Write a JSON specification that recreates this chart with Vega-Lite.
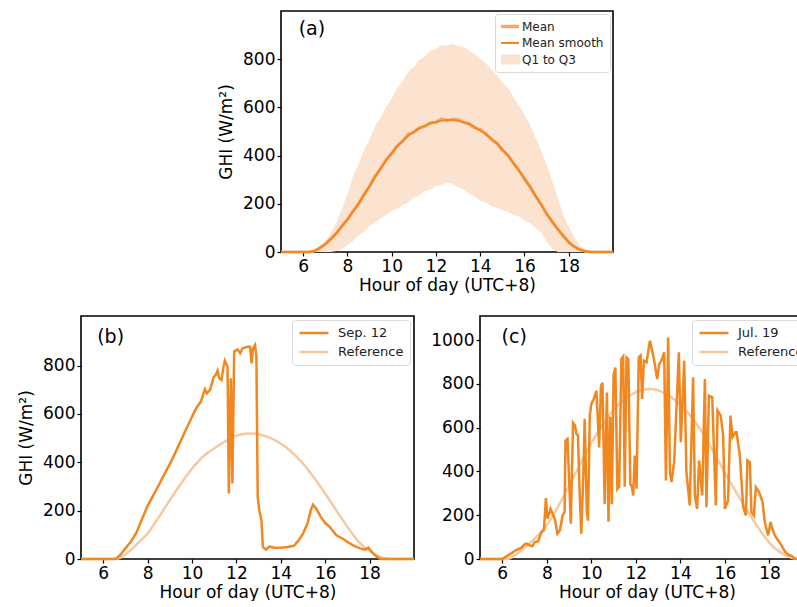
{
  "$schema": "https://vega.github.io/schema/vega-lite/v6.json",
  "padding": {"left": 16, "top": 10, "right": 0, "bottom": 0},
  "background": "white",
  "config": {
    "font": "DejaVu Sans",
    "view": {"stroke": "black", "strokeWidth": 1.6},
    "axis": {"domain": false, "grid": false, "ticks": true, "tickColor": "black", "tickWidth": 1.2, "tickSize": 4,
      "labelFont": "DejaVu Sans", "labelFontSize": 17, "labelColor": "black", "labelPadding": 2, "labelFlush": false, "labelOverlap": false, "format": "d",
      "titleFont": "DejaVu Sans", "titleFontSize": 17, "titleFontWeight": "normal", "titleColor": "black"},
    "axisX": {"titlePadding": 3},
    "axisY": {"titlePadding": 7},
    "legend": {"orient": "top-right", "offset": 4, "fillColor": "white", "strokeColor": "#d9d9d9", "cornerRadius": 3,
      "padding": 6, "labelFont": "DejaVu Sans", "labelFontSize": 13, "labelColor": "#222222", "symbolType": "stroke",
      "symbolStrokeWidth": 2.5, "symbolSize": 841, "clipHeight": 14, "rowPadding": 5, "labelOffset": 8}
  },
  "datasets": {
    "a_lines": [
      {"series":"Mean smooth","hour":5,"value":0},{"series":"Mean smooth","hour":6,"value":0},{"series":"Mean smooth","hour":6.25,"value":0},{"series":"Mean smooth","hour":6.5,"value":4},{"series":"Mean smooth","hour":6.75,"value":16},{"series":"Mean smooth","hour":7,"value":33},{"series":"Mean smooth","hour":7.25,"value":53},{"series":"Mean smooth","hour":7.5,"value":78},{"series":"Mean smooth","hour":7.75,"value":106},{"series":"Mean smooth","hour":8,"value":135},{"series":"Mean smooth","hour":8.25,"value":167},{"series":"Mean smooth","hour":8.5,"value":200},{"series":"Mean smooth","hour":8.75,"value":236},{"series":"Mean smooth","hour":9,"value":274},{"series":"Mean smooth","hour":9.25,"value":311},{"series":"Mean smooth","hour":9.5,"value":347},{"series":"Mean smooth","hour":9.75,"value":380},{"series":"Mean smooth","hour":10,"value":410},{"series":"Mean smooth","hour":10.25,"value":438},{"series":"Mean smooth","hour":10.5,"value":462},{"series":"Mean smooth","hour":10.75,"value":482},{"series":"Mean smooth","hour":11,"value":499},{"series":"Mean smooth","hour":11.25,"value":513},{"series":"Mean smooth","hour":11.5,"value":524},{"series":"Mean smooth","hour":11.75,"value":533},{"series":"Mean smooth","hour":12,"value":540},{"series":"Mean smooth","hour":12.25,"value":545},{"series":"Mean smooth","hour":12.5,"value":548},{"series":"Mean smooth","hour":12.75,"value":548},{"series":"Mean smooth","hour":13,"value":545},{"series":"Mean smooth","hour":13.25,"value":539},{"series":"Mean smooth","hour":13.5,"value":530},{"series":"Mean smooth","hour":13.75,"value":518},{"series":"Mean smooth","hour":14,"value":504},{"series":"Mean smooth","hour":14.25,"value":488},{"series":"Mean smooth","hour":14.5,"value":470},{"series":"Mean smooth","hour":14.75,"value":450},{"series":"Mean smooth","hour":15,"value":425},{"series":"Mean smooth","hour":15.25,"value":400},{"series":"Mean smooth","hour":15.5,"value":370},{"series":"Mean smooth","hour":15.75,"value":338},{"series":"Mean smooth","hour":16,"value":305},{"series":"Mean smooth","hour":16.25,"value":270},{"series":"Mean smooth","hour":16.5,"value":234},{"series":"Mean smooth","hour":16.75,"value":197},{"series":"Mean smooth","hour":17,"value":160},{"series":"Mean smooth","hour":17.25,"value":126},{"series":"Mean smooth","hour":17.5,"value":96},{"series":"Mean smooth","hour":17.75,"value":67},{"series":"Mean smooth","hour":18,"value":41},{"series":"Mean smooth","hour":18.25,"value":22},{"series":"Mean smooth","hour":18.5,"value":10},{"series":"Mean smooth","hour":18.75,"value":3},{"series":"Mean smooth","hour":19,"value":0},{"series":"Mean smooth","hour":20,"value":0},
      {"series":"Mean","hour":5,"value":0},{"series":"Mean","hour":6,"value":0},{"series":"Mean","hour":6.25,"value":0},{"series":"Mean","hour":6.5,"value":4},{"series":"Mean","hour":6.75,"value":17},{"series":"Mean","hour":7,"value":32},{"series":"Mean","hour":7.25,"value":55},{"series":"Mean","hour":7.5,"value":77},{"series":"Mean","hour":7.75,"value":108},{"series":"Mean","hour":8,"value":134},{"series":"Mean","hour":8.25,"value":169},{"series":"Mean","hour":8.5,"value":198},{"series":"Mean","hour":8.75,"value":239},{"series":"Mean","hour":9,"value":272},{"series":"Mean","hour":9.25,"value":314},{"series":"Mean","hour":9.5,"value":345},{"series":"Mean","hour":9.75,"value":383},{"series":"Mean","hour":10,"value":408},{"series":"Mean","hour":10.25,"value":441},{"series":"Mean","hour":10.5,"value":460},{"series":"Mean","hour":10.75,"value":489},{"series":"Mean","hour":11,"value":496},{"series":"Mean","hour":11.25,"value":516},{"series":"Mean","hour":11.5,"value":521},{"series":"Mean","hour":11.75,"value":537},{"series":"Mean","hour":12,"value":538},{"series":"Mean","hour":12.25,"value":552},{"series":"Mean","hour":12.5,"value":545},{"series":"Mean","hour":12.75,"value":550},{"series":"Mean","hour":13,"value":549},{"series":"Mean","hour":13.25,"value":537},{"series":"Mean","hour":13.5,"value":533},{"series":"Mean","hour":13.75,"value":515},{"series":"Mean","hour":14,"value":507},{"series":"Mean","hour":14.25,"value":492},{"series":"Mean","hour":14.5,"value":467},{"series":"Mean","hour":14.75,"value":452},{"series":"Mean","hour":15,"value":423},{"series":"Mean","hour":15.25,"value":402},{"series":"Mean","hour":15.5,"value":368},{"series":"Mean","hour":15.75,"value":340},{"series":"Mean","hour":16,"value":303},{"series":"Mean","hour":16.25,"value":272},{"series":"Mean","hour":16.5,"value":232},{"series":"Mean","hour":16.75,"value":199},{"series":"Mean","hour":17,"value":158},{"series":"Mean","hour":17.25,"value":127},{"series":"Mean","hour":17.5,"value":95},{"series":"Mean","hour":17.75,"value":68},{"series":"Mean","hour":18,"value":40},{"series":"Mean","hour":18.25,"value":22},{"series":"Mean","hour":18.5,"value":10},{"series":"Mean","hour":18.75,"value":3},{"series":"Mean","hour":19,"value":0},{"series":"Mean","hour":20,"value":0}
    ],
    "a_band": [
      {"hour":5,"q1":0,"q3":0},{"hour":6,"q1":0,"q3":0},{"hour":6.3,"q1":0,"q3":0},{"hour":6.5,"q1":0,"q3":4},{"hour":6.75,"q1":0,"q3":20},{"hour":7,"q1":0,"q3":44},{"hour":7.25,"q1":0,"q3":80},{"hour":7.5,"q1":4,"q3":122},{"hour":7.75,"q1":10,"q3":178},{"hour":8,"q1":28,"q3":242},{"hour":8.25,"q1":46,"q3":312},{"hour":8.5,"q1":68,"q3":362},{"hour":8.75,"q1":84,"q3":424},{"hour":9,"q1":108,"q3":466},{"hour":9.25,"q1":120,"q3":523},{"hour":9.5,"q1":140,"q3":557},{"hour":9.75,"q1":152,"q3":603},{"hour":10,"q1":170,"q3":636},{"hour":10.25,"q1":178,"q3":681},{"hour":10.5,"q1":195,"q3":709},{"hour":10.75,"q1":205,"q3":748},{"hour":11,"q1":225,"q3":768},{"hour":11.25,"q1":235,"q3":798},{"hour":11.5,"q1":253,"q3":812},{"hour":11.75,"q1":259,"q3":835},{"hour":12,"q1":275,"q3":842},{"hour":12.25,"q1":278,"q3":858},{"hour":12.5,"q1":288,"q3":857},{"hour":12.75,"q1":283,"q3":864},{"hour":13,"q1":270,"q3":855},{"hour":13.25,"q1":260,"q3":852},{"hour":13.5,"q1":242,"q3":835},{"hour":13.75,"q1":230,"q3":822},{"hour":14,"q1":212,"q3":802},{"hour":14.25,"q1":206,"q3":783},{"hour":14.5,"q1":190,"q3":757},{"hour":14.75,"q1":184,"q3":737},{"hour":15,"q1":172,"q3":702},{"hour":15.25,"q1":167,"q3":683},{"hour":15.5,"q1":152,"q3":642},{"hour":15.75,"q1":147,"q3":608},{"hour":16,"q1":130,"q3":570},{"hour":16.25,"q1":120,"q3":528},{"hour":16.5,"q1":100,"q3":472},{"hour":16.75,"q1":82,"q3":422},{"hour":17,"q1":44,"q3":362},{"hour":17.25,"q1":15,"q3":297},{"hour":17.5,"q1":0,"q3":225},{"hour":17.75,"q1":0,"q3":155},{"hour":18,"q1":0,"q3":105},{"hour":18.25,"q1":0,"q3":60},{"hour":18.5,"q1":0,"q3":28},{"hour":18.75,"q1":0,"q3":8},{"hour":19,"q1":0,"q3":0},{"hour":20,"q1":0,"q3":0}
    ],
    "b": [
      {"series":"Reference","hour":5,"value":0},{"series":"Reference","hour":6.5,"value":0},{"series":"Reference","hour":6.75,"value":5},{"series":"Reference","hour":7,"value":19},{"series":"Reference","hour":7.25,"value":38},{"series":"Reference","hour":7.5,"value":60},{"series":"Reference","hour":7.75,"value":82},{"series":"Reference","hour":8,"value":105},{"series":"Reference","hour":8.25,"value":138},{"series":"Reference","hour":8.5,"value":172},{"series":"Reference","hour":8.75,"value":208},{"series":"Reference","hour":9,"value":243},{"series":"Reference","hour":9.25,"value":278},{"series":"Reference","hour":9.5,"value":311},{"series":"Reference","hour":9.75,"value":343},{"series":"Reference","hour":10,"value":374},{"series":"Reference","hour":10.25,"value":400},{"series":"Reference","hour":10.5,"value":424},{"series":"Reference","hour":10.75,"value":442},{"series":"Reference","hour":11,"value":457},{"series":"Reference","hour":11.25,"value":472},{"series":"Reference","hour":11.5,"value":487},{"series":"Reference","hour":11.75,"value":500},{"series":"Reference","hour":12,"value":510},{"series":"Reference","hour":12.25,"value":516},{"series":"Reference","hour":12.5,"value":519},{"series":"Reference","hour":12.75,"value":519},{"series":"Reference","hour":13,"value":516},{"series":"Reference","hour":13.25,"value":510},{"series":"Reference","hour":13.5,"value":502},{"series":"Reference","hour":13.75,"value":491},{"series":"Reference","hour":14,"value":478},{"series":"Reference","hour":14.25,"value":461},{"series":"Reference","hour":14.5,"value":441},{"series":"Reference","hour":14.75,"value":419},{"series":"Reference","hour":15,"value":395},{"series":"Reference","hour":15.25,"value":366},{"series":"Reference","hour":15.5,"value":336},{"series":"Reference","hour":15.75,"value":304},{"series":"Reference","hour":16,"value":271},{"series":"Reference","hour":16.25,"value":236},{"series":"Reference","hour":16.5,"value":201},{"series":"Reference","hour":16.75,"value":167},{"series":"Reference","hour":17,"value":133},{"series":"Reference","hour":17.25,"value":101},{"series":"Reference","hour":17.5,"value":72},{"series":"Reference","hour":17.75,"value":50},{"series":"Reference","hour":18,"value":34},{"series":"Reference","hour":18.25,"value":18},{"series":"Reference","hour":18.5,"value":8},{"series":"Reference","hour":18.75,"value":2},{"series":"Reference","hour":19,"value":0},{"series":"Reference","hour":20,"value":0},
      {"series":"Sep. 12","hour":5,"value":0},{"series":"Sep. 12","hour":6.5,"value":0},{"series":"Sep. 12","hour":6.6,"value":2},{"series":"Sep. 12","hour":6.8,"value":20},{"series":"Sep. 12","hour":7,"value":44},{"series":"Sep. 12","hour":7.25,"value":72},{"series":"Sep. 12","hour":7.5,"value":110},{"series":"Sep. 12","hour":7.75,"value":165},{"series":"Sep. 12","hour":8,"value":220},{"series":"Sep. 12","hour":8.25,"value":262},{"series":"Sep. 12","hour":8.5,"value":305},{"series":"Sep. 12","hour":8.75,"value":350},{"series":"Sep. 12","hour":9,"value":392},{"series":"Sep. 12","hour":9.25,"value":440},{"series":"Sep. 12","hour":9.5,"value":490},{"series":"Sep. 12","hour":9.75,"value":540},{"series":"Sep. 12","hour":10,"value":588},{"series":"Sep. 12","hour":10.2,"value":625},{"series":"Sep. 12","hour":10.4,"value":651},{"series":"Sep. 12","hour":10.58,"value":702},{"series":"Sep. 12","hour":10.67,"value":685},{"series":"Sep. 12","hour":10.82,"value":700},{"series":"Sep. 12","hour":10.97,"value":751},{"series":"Sep. 12","hour":11.07,"value":761},{"series":"Sep. 12","hour":11.15,"value":779},{"series":"Sep. 12","hour":11.23,"value":747},{"series":"Sep. 12","hour":11.33,"value":740},{"series":"Sep. 12","hour":11.42,"value":796},{"series":"Sep. 12","hour":11.48,"value":820},{"series":"Sep. 12","hour":11.6,"value":796},{"series":"Sep. 12","hour":11.66,"value":271},{"series":"Sep. 12","hour":11.75,"value":747},{"series":"Sep. 12","hour":11.82,"value":312},{"series":"Sep. 12","hour":11.9,"value":858},{"series":"Sep. 12","hour":12.05,"value":867},{"series":"Sep. 12","hour":12.17,"value":851},{"series":"Sep. 12","hour":12.27,"value":871},{"series":"Sep. 12","hour":12.5,"value":878},{"series":"Sep. 12","hour":12.62,"value":878},{"series":"Sep. 12","hour":12.68,"value":809},{"series":"Sep. 12","hour":12.75,"value":871},{"series":"Sep. 12","hour":12.84,"value":885},{"series":"Sep. 12","hour":12.9,"value":837},{"series":"Sep. 12","hour":12.96,"value":257},{"series":"Sep. 12","hour":13.03,"value":202},{"series":"Sep. 12","hour":13.13,"value":160},{"series":"Sep. 12","hour":13.19,"value":50},{"series":"Sep. 12","hour":13.33,"value":39},{"series":"Sep. 12","hour":13.5,"value":52},{"series":"Sep. 12","hour":13.7,"value":47},{"series":"Sep. 12","hour":14,"value":47},{"series":"Sep. 12","hour":14.3,"value":50},{"series":"Sep. 12","hour":14.6,"value":55},{"series":"Sep. 12","hour":14.8,"value":77},{"series":"Sep. 12","hour":15,"value":105},{"series":"Sep. 12","hour":15.2,"value":146},{"series":"Sep. 12","hour":15.35,"value":202},{"series":"Sep. 12","hour":15.45,"value":225},{"series":"Sep. 12","hour":15.6,"value":208},{"series":"Sep. 12","hour":15.8,"value":174},{"series":"Sep. 12","hour":16,"value":149},{"series":"Sep. 12","hour":16.2,"value":133},{"series":"Sep. 12","hour":16.5,"value":98},{"series":"Sep. 12","hour":16.8,"value":84},{"series":"Sep. 12","hour":17,"value":70},{"series":"Sep. 12","hour":17.3,"value":54},{"series":"Sep. 12","hour":17.6,"value":43},{"series":"Sep. 12","hour":17.8,"value":39},{"series":"Sep. 12","hour":17.95,"value":47},{"series":"Sep. 12","hour":18.1,"value":29},{"series":"Sep. 12","hour":18.3,"value":11},{"series":"Sep. 12","hour":18.5,"value":0},{"series":"Sep. 12","hour":20,"value":0}
    ],
    "c": [
      {"series":"Reference","hour":5,"value":0},{"series":"Reference","hour":6.2,"value":0},{"series":"Reference","hour":6.5,"value":12},{"series":"Reference","hour":7,"value":52},{"series":"Reference","hour":7.5,"value":98},{"series":"Reference","hour":8,"value":155},{"series":"Reference","hour":8.5,"value":238},{"series":"Reference","hour":9,"value":333},{"series":"Reference","hour":9.5,"value":433},{"series":"Reference","hour":10,"value":530},{"series":"Reference","hour":10.5,"value":612},{"series":"Reference","hour":11,"value":682},{"series":"Reference","hour":11.5,"value":730},{"series":"Reference","hour":12,"value":762},{"series":"Reference","hour":12.35,"value":774},{"series":"Reference","hour":12.7,"value":777},{"series":"Reference","hour":13,"value":770},{"series":"Reference","hour":13.5,"value":745},{"series":"Reference","hour":14,"value":705},{"series":"Reference","hour":14.5,"value":647},{"series":"Reference","hour":15,"value":576},{"series":"Reference","hour":15.5,"value":487},{"series":"Reference","hour":16,"value":394},{"series":"Reference","hour":16.5,"value":305},{"series":"Reference","hour":17,"value":222},{"series":"Reference","hour":17.5,"value":142},{"series":"Reference","hour":18,"value":74},{"series":"Reference","hour":18.5,"value":29},{"series":"Reference","hour":19,"value":6},{"series":"Reference","hour":19.3,"value":0},{"series":"Reference","hour":20,"value":0},
      {"series":"Jul. 19","hour":5,"value":0},{"series":"Jul. 19","hour":6,"value":0},{"series":"Jul. 19","hour":6.33,"value":21},{"series":"Jul. 19","hour":6.63,"value":41},{"series":"Jul. 19","hour":6.86,"value":52},{"series":"Jul. 19","hour":7,"value":67},{"series":"Jul. 19","hour":7.09,"value":70},{"series":"Jul. 19","hour":7.24,"value":62},{"series":"Jul. 19","hour":7.35,"value":58},{"series":"Jul. 19","hour":7.46,"value":77},{"series":"Jul. 19","hour":7.61,"value":80},{"series":"Jul. 19","hour":7.76,"value":123},{"series":"Jul. 19","hour":7.87,"value":131},{"series":"Jul. 19","hour":7.96,"value":278},{"series":"Jul. 19","hour":8.03,"value":184},{"series":"Jul. 19","hour":8.11,"value":207},{"series":"Jul. 19","hour":8.17,"value":229},{"series":"Jul. 19","hour":8.29,"value":199},{"series":"Jul. 19","hour":8.36,"value":184},{"series":"Jul. 19","hour":8.48,"value":116},{"series":"Jul. 19","hour":8.59,"value":131},{"series":"Jul. 19","hour":8.71,"value":199},{"series":"Jul. 19","hour":8.8,"value":214},{"series":"Jul. 19","hour":8.84,"value":541},{"series":"Jul. 19","hour":8.93,"value":549},{"series":"Jul. 19","hour":9.08,"value":161},{"series":"Jul. 19","hour":9.18,"value":622},{"series":"Jul. 19","hour":9.27,"value":609},{"series":"Jul. 19","hour":9.33,"value":571},{"series":"Jul. 19","hour":9.4,"value":564},{"series":"Jul. 19","hour":9.47,"value":321},{"series":"Jul. 19","hour":9.55,"value":116},{"series":"Jul. 19","hour":9.64,"value":381},{"series":"Jul. 19","hour":9.7,"value":640},{"series":"Jul. 19","hour":9.8,"value":214},{"series":"Jul. 19","hour":9.85,"value":175},{"series":"Jul. 19","hour":9.93,"value":655},{"series":"Jul. 19","hour":10,"value":708},{"series":"Jul. 19","hour":10.11,"value":731},{"series":"Jul. 19","hour":10.23,"value":769},{"series":"Jul. 19","hour":10.35,"value":510},{"series":"Jul. 19","hour":10.43,"value":790},{"series":"Jul. 19","hour":10.5,"value":805},{"series":"Jul. 19","hour":10.6,"value":250},{"series":"Jul. 19","hour":10.7,"value":760},{"series":"Jul. 19","hour":10.77,"value":170},{"series":"Jul. 19","hour":10.85,"value":650},{"series":"Jul. 19","hour":10.92,"value":250},{"series":"Jul. 19","hour":11,"value":840},{"series":"Jul. 19","hour":11.08,"value":875},{"series":"Jul. 19","hour":11.17,"value":320},{"series":"Jul. 19","hour":11.25,"value":330},{"series":"Jul. 19","hour":11.35,"value":915},{"series":"Jul. 19","hour":11.43,"value":925},{"series":"Jul. 19","hour":11.5,"value":330},{"series":"Jul. 19","hour":11.58,"value":920},{"series":"Jul. 19","hour":11.66,"value":913},{"series":"Jul. 19","hour":11.75,"value":340},{"series":"Jul. 19","hour":11.81,"value":336},{"series":"Jul. 19","hour":11.88,"value":290},{"series":"Jul. 19","hour":11.95,"value":473},{"series":"Jul. 19","hour":12.03,"value":321},{"series":"Jul. 19","hour":12.13,"value":921},{"series":"Jul. 19","hour":12.21,"value":929},{"series":"Jul. 19","hour":12.28,"value":731},{"series":"Jul. 19","hour":12.36,"value":906},{"series":"Jul. 19","hour":12.48,"value":898},{"series":"Jul. 19","hour":12.63,"value":997},{"series":"Jul. 19","hour":12.7,"value":967},{"series":"Jul. 19","hour":12.81,"value":913},{"series":"Jul. 19","hour":12.96,"value":822},{"series":"Jul. 19","hour":13.05,"value":891},{"series":"Jul. 19","hour":13.15,"value":906},{"series":"Jul. 19","hour":13.27,"value":944},{"series":"Jul. 19","hour":13.35,"value":359},{"series":"Jul. 19","hour":13.45,"value":1012},{"series":"Jul. 19","hour":13.53,"value":397},{"series":"Jul. 19","hour":13.6,"value":351},{"series":"Jul. 19","hour":13.72,"value":442},{"series":"Jul. 19","hour":13.93,"value":944},{"series":"Jul. 19","hour":14.02,"value":533},{"series":"Jul. 19","hour":14.17,"value":906},{"series":"Jul. 19","hour":14.27,"value":397},{"series":"Jul. 19","hour":14.42,"value":245},{"series":"Jul. 19","hour":14.57,"value":830},{"series":"Jul. 19","hour":14.65,"value":290},{"series":"Jul. 19","hour":14.75,"value":229},{"series":"Jul. 19","hour":14.84,"value":450},{"series":"Jul. 19","hour":14.98,"value":290},{"series":"Jul. 19","hour":15.1,"value":822},{"series":"Jul. 19","hour":15.17,"value":237},{"series":"Jul. 19","hour":15.28,"value":746},{"series":"Jul. 19","hour":15.43,"value":739},{"series":"Jul. 19","hour":15.59,"value":245},{"series":"Jul. 19","hour":15.67,"value":678},{"series":"Jul. 19","hour":15.81,"value":655},{"series":"Jul. 19","hour":15.92,"value":564},{"series":"Jul. 19","hour":16,"value":229},{"series":"Jul. 19","hour":16.14,"value":267},{"series":"Jul. 19","hour":16.25,"value":655},{"series":"Jul. 19","hour":16.34,"value":556},{"series":"Jul. 19","hour":16.47,"value":579},{"series":"Jul. 19","hour":16.52,"value":579},{"series":"Jul. 19","hour":16.67,"value":473},{"series":"Jul. 19","hour":16.82,"value":237},{"series":"Jul. 19","hour":16.94,"value":199},{"series":"Jul. 19","hour":17.01,"value":450},{"series":"Jul. 19","hour":17.12,"value":442},{"series":"Jul. 19","hour":17.19,"value":214},{"series":"Jul. 19","hour":17.3,"value":199},{"series":"Jul. 19","hour":17.39,"value":328},{"series":"Jul. 19","hour":17.54,"value":305},{"series":"Jul. 19","hour":17.69,"value":260},{"series":"Jul. 19","hour":17.79,"value":169},{"series":"Jul. 19","hour":17.94,"value":108},{"series":"Jul. 19","hour":18.05,"value":169},{"series":"Jul. 19","hour":18.13,"value":138},{"series":"Jul. 19","hour":18.24,"value":108},{"series":"Jul. 19","hour":18.39,"value":85},{"series":"Jul. 19","hour":18.54,"value":62},{"series":"Jul. 19","hour":18.69,"value":35},{"series":"Jul. 19","hour":18.84,"value":20},{"series":"Jul. 19","hour":18.99,"value":14},{"series":"Jul. 19","hour":19.14,"value":2},{"series":"Jul. 19","hour":19.36,"value":0},{"series":"Jul. 19","hour":20,"value":0}
    ],
    "labels": [
      {"panel":"a","label":"(a)","hour":5.8,"value":925},
      {"panel":"b","label":"(b)","hour":5.73,"value":917},
      {"panel":"c","label":"(c)","hour":5.97,"value":1013}
    ]
  },
  "spacing": 21,
  "resolve": {"scale": {"color": "independent"}, "legend": {"color": "independent"}},
  "vconcat": [
    {
      "spacing": 0,
      "resolve": {"scale": {"color": "independent"}, "legend": {"color": "independent"}},
      "hconcat": [
        {"width": 135, "height": 10, "view": {"stroke": null}, "data": {"values": [{"k": 1}]}, "mark": {"type": "point", "opacity": 0}},
        {
          "width": 332, "height": 241,
          "layer": [
            {
              "data": {"name": "a_band"},
              "mark": {"type": "area", "interpolate": "linear"},
              "encoding": {
                "x": {"field": "hour", "type": "quantitative", "scale": {"domain": [5, 20], "nice": false}, "axis": {"values": [6, 8, 10, 12, 14, 16, 18], "title": "Hour of day (UTC+8)"}},
                "y": {"field": "q1", "type": "quantitative", "scale": {"domain": [0, 1000], "nice": false}, "axis": {"values": [0, 200, 400, 600, 800], "title": "GHI (W/m²)"}},
                "y2": {"field": "q3"},
                "color": {"datum": "Q1 to Q3", "type": "nominal", "title": null,
                  "scale": {"domain": ["Mean", "Mean smooth", "Q1 to Q3"], "range": ["#f4aa6e", "#f2871f", "#fce3d0"]},
                  "legend": {"title": null, "offset": 3, "padding": 6, "labelFontSize": 12, "symbolSize": 576, "clipHeight": 13, "rowPadding": 3.5, "labelOffset": 9,
                    "encode": {"symbols": {"update": {
                      "shape": {"signal": "datum.value === 'Q1 to Q3' ? 'M-1,-0.33H1V0.33H-1Z' : 'stroke'"},
                      "fill": {"signal": "datum.value === 'Q1 to Q3' ? '#fce3d0' : 'transparent'"},
                      "stroke": {"signal": "datum.value === 'Mean' ? '#f4aa6e' : (datum.value === 'Mean smooth' ? '#f2871f' : 'transparent')"},
                      "strokeWidth": {"signal": "datum.value === 'Mean' ? 3.5 : 2.2"},
                      "opacity": {"value": 1}
                    }}}}
                }
              }
            },
            {
              "data": {"name": "a_lines"},
              "transform": [{"filter": "datum.series === 'Mean'"}],
              "mark": {"type": "line", "strokeWidth": 3.2},
              "encoding": {
                "x": {"field": "hour", "type": "quantitative"},
                "y": {"field": "value", "type": "quantitative"},
                "color": {"field": "series", "type": "nominal", "title": null, "legend": {"title": null}}
              }
            },
            {
              "data": {"name": "a_lines"},
              "transform": [{"filter": "datum.series === 'Mean smooth'"}],
              "mark": {"type": "line", "strokeWidth": 2, "interpolate": "monotone"},
              "encoding": {
                "x": {"field": "hour", "type": "quantitative"},
                "y": {"field": "value", "type": "quantitative"},
                "color": {"field": "series", "type": "nominal", "title": null, "legend": {"title": null}}
              }
            },
            {
              "data": {"name": "labels"},
              "transform": [{"filter": "datum.panel === 'a'"}],
              "mark": {"type": "text", "align": "left", "baseline": "middle", "fontSize": 19, "color": "black"},
              "encoding": {
                "x": {"field": "hour", "type": "quantitative"},
                "y": {"field": "value", "type": "quantitative"},
                "text": {"field": "label"}
              }
            }
          ]
        }
      ]
    },
    {
      "spacing": 9,
      "resolve": {"scale": {"color": "independent"}, "legend": {"color": "independent"}},
      "hconcat": [
        {
          "width": 333, "height": 243,
          "layer": [
            {
              "data": {"name": "b"},
              "transform": [{"filter": "datum.series === 'Reference'"}],
              "mark": {"type": "line", "strokeWidth": 2.5, "interpolate": "monotone"},
              "encoding": {
                "x": {"field": "hour", "type": "quantitative", "scale": {"domain": [5, 20], "nice": false}, "axis": {"values": [6, 8, 10, 12, 14, 16, 18], "title": "Hour of day (UTC+8)"}},
                "y": {"field": "value", "type": "quantitative", "scale": {"domain": [0, 1005], "nice": false}, "axis": {"values": [0, 200, 400, 600, 800], "title": "GHI (W/m²)"}},
                "color": {"field": "series", "type": "nominal", "scale": {"domain": ["Sep. 12", "Reference"], "range": ["#f2871f", "#f8c8a0"]}, "legend": {"title": null}}
              }
            },
            {
              "data": {"name": "b"},
              "transform": [{"filter": "datum.series === 'Sep. 12'"}],
              "mark": {"type": "line", "strokeWidth": 2.5},
              "encoding": {
                "x": {"field": "hour", "type": "quantitative"},
                "y": {"field": "value", "type": "quantitative"},
                "color": {"field": "series", "type": "nominal"}
              }
            },
            {
              "data": {"name": "labels"},
              "transform": [{"filter": "datum.panel === 'b'"}],
              "mark": {"type": "text", "align": "left", "baseline": "middle", "fontSize": 19, "color": "black"},
              "encoding": {
                "x": {"field": "hour", "type": "quantitative"},
                "y": {"field": "value", "type": "quantitative"},
                "text": {"field": "label"}
              }
            }
          ]
        },
        {
          "width": 334, "height": 243,
          "layer": [
            {
              "data": {"name": "c"},
              "transform": [{"filter": "datum.series === 'Reference'"}],
              "mark": {"type": "line", "strokeWidth": 2.5, "interpolate": "monotone"},
              "encoding": {
                "x": {"field": "hour", "type": "quantitative", "scale": {"domain": [5, 20], "nice": false}, "axis": {"values": [6, 8, 10, 12, 14, 16, 18], "title": "Hour of day (UTC+8)"}},
                "y": {"field": "value", "type": "quantitative", "scale": {"domain": [0, 1110], "nice": false}, "axis": {"values": [0, 200, 400, 600, 800, 1000], "title": null}},
                "color": {"field": "series", "type": "nominal", "scale": {"domain": ["Jul. 19", "Reference"], "range": ["#f2871f", "#f8c8a0"]}, "legend": {"title": null}}
              }
            },
            {
              "data": {"name": "c"},
              "transform": [{"filter": "datum.series === 'Jul. 19'"}],
              "mark": {"type": "line", "strokeWidth": 2.5},
              "encoding": {
                "x": {"field": "hour", "type": "quantitative"},
                "y": {"field": "value", "type": "quantitative"},
                "color": {"field": "series", "type": "nominal"}
              }
            },
            {
              "data": {"name": "labels"},
              "transform": [{"filter": "datum.panel === 'c'"}],
              "mark": {"type": "text", "align": "left", "baseline": "middle", "fontSize": 19, "color": "black"},
              "encoding": {
                "x": {"field": "hour", "type": "quantitative"},
                "y": {"field": "value", "type": "quantitative"},
                "text": {"field": "label"}
              }
            }
          ]
        }
      ]
    }
  ]
}
